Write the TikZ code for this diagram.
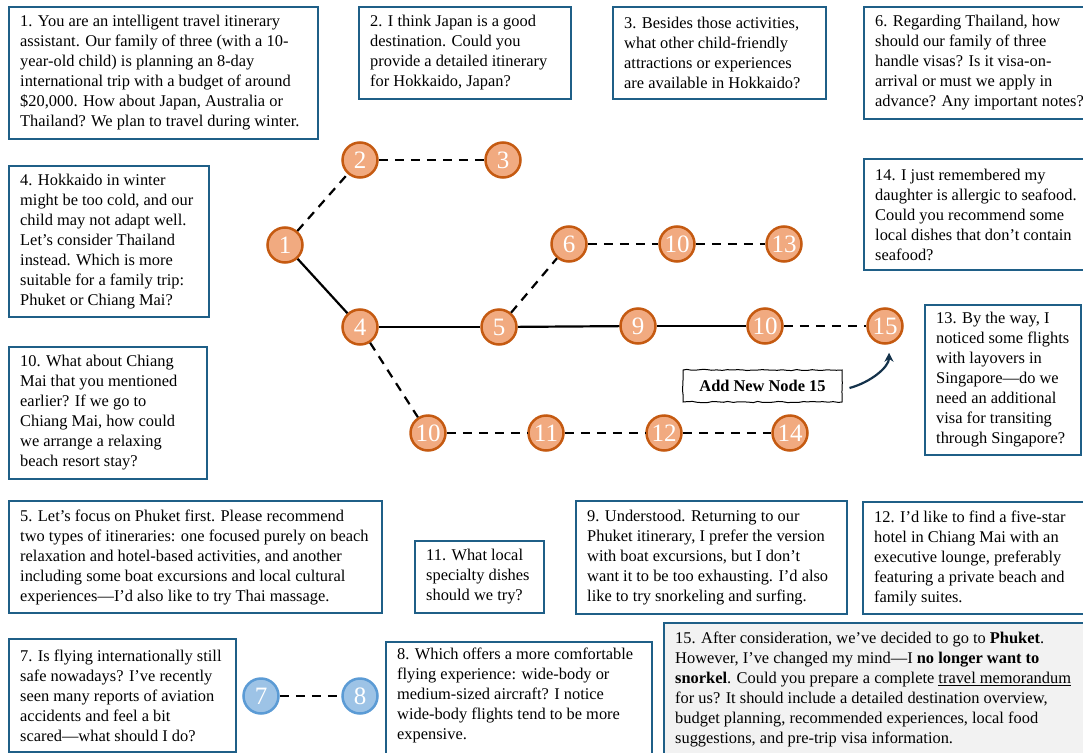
\documentclass[tikz,border=0pt]{standalone}
\usepackage{fontspec}
\setmainfont{Liberation Serif}
\usetikzlibrary{decorations.pathmorphing,arrows.meta}
\definecolor{boxblue}{RGB}{31,95,135}
\definecolor{ofill}{RGB}{241,170,128}
\definecolor{odraw}{RGB}{197,90,17}
\definecolor{bfill}{RGB}{157,195,230}
\definecolor{bdraw}{RGB}{91,155,213}
\definecolor{gfill}{RGB}{242,242,242}
\definecolor{arrnavy}{RGB}{20,50,75}
\tikzset{
 qbox/.style={draw=boxblue, line width=2pt, inner sep=0pt},
 qtext/.style={inner sep=0pt, align=left, font=\fontsize{16.4}{20}\selectfont},
 onode/.style={circle, draw=odraw, fill=ofill, line width=2.5pt, minimum size=35pt, inner sep=0pt, text=white, font=\fontsize{25}{25}\selectfont},
 bnode/.style={onode, draw=bdraw, fill=bfill},
 solidedge/.style={line width=2.2pt},
 dashededge/.style={line width=2.2pt, dash pattern=on 9pt off 7pt},
 addbox/.style={draw, line width=1pt, decorate, decoration={random steps, segment length=5pt, amplitude=0.6pt}, minimum width=159pt, minimum height=32pt, inner sep=0pt, font=\fontsize{16.4}{20}\selectfont\bfseries},
}
\newcommand\qbox[6]{%
 \node[qbox, minimum width=#4pt, minimum height=#5pt, anchor=north west] (#1) at (#2,#3) {};
 \node[qtext, anchor=west] (#1t) at ([xshift=12pt]#1.west) {#6};
}
\begin{document}
\begin{tikzpicture}[x=1pt,y=-1pt]
\useasboundingbox (0,0) rectangle (1083,752);
\clip (0,0) rectangle (1083,752);
\fill[white] (0,0) rectangle (1083,752);

% question boxes
\qbox{b1}{8}{6}{309}{132}{1. You are an intelligent travel itinerary\\assistant. Our family of three (with a 10-\\year-old child) is planning an 8-day\\international trip with a budget of around\\\$20,000. How about Japan, Australia or\\Thailand? We plan to travel during winter.}
\qbox{b2}{358}{6}{212}{92}{2. I think Japan is a good\\destination. Could you\\provide a detailed itinerary\\for Hokkaido, Japan?}
\qbox{b3}{612}{6}{213}{92}{3. Besides those activities,\\what other child-friendly\\attractions or experiences\\are available in Hokkaido?}
\qbox{b6}{863}{6}{230}{112}{6. Regarding Thailand, how\\should our family of three\\handle visas? Is it visa-on-\\arrival or must we apply in\\advance? Any important notes?}
\qbox{b4}{8}{165}{200}{151}{4. Hokkaido in winter\\might be too cold, and our\\child may not adapt well.\\Let’s consider Thailand\\instead. Which is more\\suitable for a family trip:\\Phuket or Chiang Mai?}
\qbox{b14}{863}{158}{230}{111}{14. I just remembered my\\daughter is allergic to seafood.\\Could you recommend some\\local dishes that don’t contain\\seafood?}
\qbox{b13}{924}{304}{156}{150}{13. By the way, I\\noticed some flights\\with layovers in\\Singapore—do we\\need an additional\\visa for transiting\\through Singapore?}
\qbox{b10}{8}{346}{198}{132}{10. What about Chiang\\Mai that you mentioned\\earlier? If we go to\\Chiang Mai, how could\\we arrange a relaxing\\beach resort stay?}
\qbox{b5}{8}{500}{373}{112}{5. Let’s focus on Phuket first. Please recommend\\two types of itineraries: one focused purely on beach\\relaxation and hotel-based activities, and another\\including some boat excursions and local cultural\\experiences—I’d also like to try Thai massage.}
\qbox{b11}{414}{540}{129}{72}{11. What local\\specialty dishes\\should we try?}
\qbox{b9}{575}{500}{271}{113}{9. Understood. Returning to our\\Phuket itinerary, I prefer the version\\with boat excursions, but I don’t\\want it to be too exhausting. I’d also\\like to try snorkeling and surfing.}
\qbox{b12}{862}{501}{230}{112}{12. I’d like to find a five-star\\hotel in Chiang Mai with an\\executive lounge, preferably\\featuring a private beach and\\family suites.}
\qbox{b7}{8}{638}{227}{113}{7. Is flying internationally still\\safe nowadays? I’ve recently\\seen many reports of aviation\\accidents and feel a bit\\scared—what should I do?}
\node[qbox, minimum width=266pt, minimum height=116pt, anchor=north west] (b8) at (385,641) {};
\node[qtext, anchor=north west] (b8t) at (397,648) {8. Which offers a more comfortable\\flying experience: wide-body or\\medium-sized aircraft? I notice\\wide-body flights tend to be more\\expensive.};
\node[qbox, fill=gfill, minimum width=430pt, minimum height=140pt, anchor=north west] (b15) at (663,622) {};
\node[qtext, anchor=north west] (b15t) at (675,632) {15. After consideration, we’ve decided to go to \textbf{Phuket}.\\However, I’ve changed my mind—I \textbf{no longer want to}\\\textbf{snorkel}. Could you prepare a complete \underline{travel memorandum}\\for us? It should include a detailed destination overview,\\budget planning, recommended experiences, local food\\suggestions, and pre-trip visa information.};

% graph nodes
\node[onode] (n1) at (285,245) {1};
\node[onode] (n2) at (360,160) {2};
\node[onode] (n3) at (503,160) {3};
\node[onode] (n4) at (360,327) {4};
\node[onode] (n5) at (499,327) {5};
\node[onode] (n6) at (569,244) {6};
\node[onode] (n10a) at (677,244) {10};
\node[onode] (n13) at (784,244) {13};
\node[onode] (n9) at (638,326) {9};
\node[onode] (n10b) at (765,326) {10};
\node[onode] (n15) at (885,326) {15};
\node[onode] (n10c) at (428,433) {10};
\node[onode] (n11) at (546,433) {11};
\node[onode] (n12) at (664,433) {12};
\node[onode] (n14) at (790,433) {14};
\node[bnode] (n7) at (261,696) {7};
\node[bnode] (n8) at (360,696) {8};

% edges
\draw[dashededge] (n1) -- (n2);
\draw[dashededge] (n2) -- (n3);
\draw[solidedge] (n1) -- (n4);
\draw[solidedge] (n4) -- (n5);
\draw[dashededge] (n5) -- (n6);
\draw[dashededge] (n6) -- (n10a);
\draw[dashededge] (n10a) -- (n13);
\draw[solidedge] (n5) -- (n9);
\draw[solidedge] (n9) -- (n10b);
\draw[dashededge] (n10b) -- (n15);
\draw[dashededge] (n4) -- (n10c);
\draw[dashededge] (n10c) -- (n11);
\draw[dashededge] (n11) -- (n12);
\draw[dashededge] (n12) -- (n14);
\draw[dashededge] (n7) -- (n8);

% annotation
\node[addbox] (add) at (762.5,386) {Add New Node 15};
\coordinate (arrS) at ([xshift=7pt,yshift=-2pt]add.east);
\coordinate (arrE) at ([xshift=4pt,yshift=-8pt]n15.south);
\draw[arrnavy, line width=2.2pt, -{Stealth[length=9pt,width=9pt]}] (arrS) .. controls ([xshift=22pt,yshift=6pt]arrS) and ([yshift=-14pt]arrE) .. (arrE);
\end{tikzpicture}
\end{document}
